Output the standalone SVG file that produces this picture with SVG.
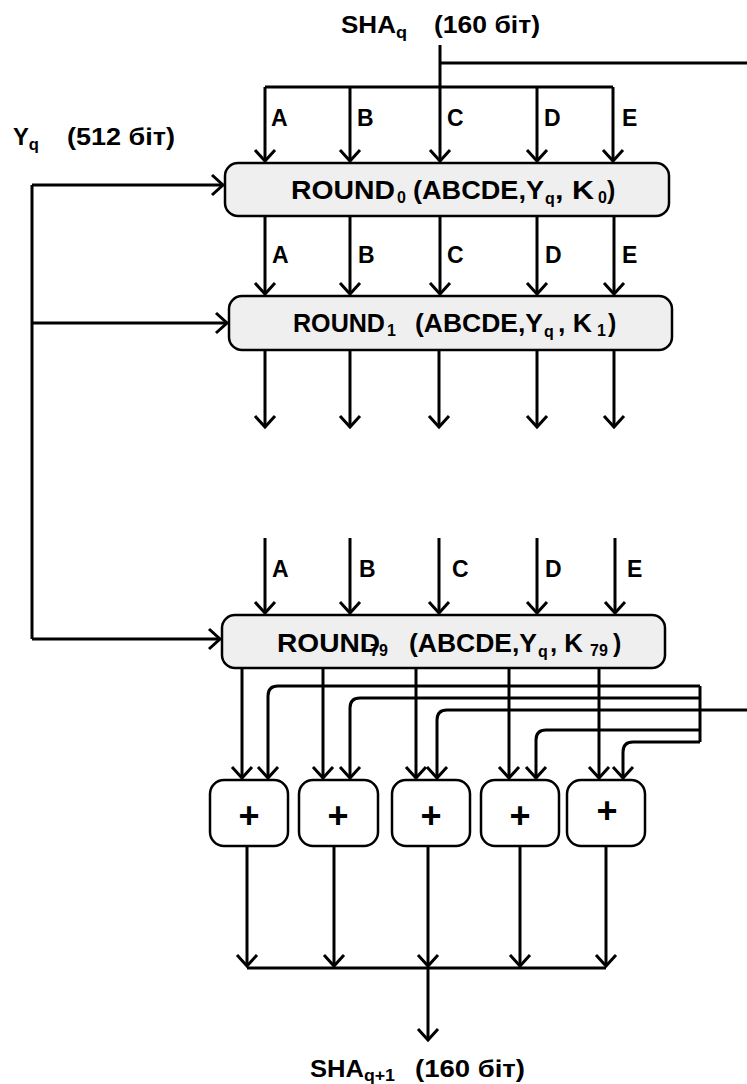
<svg xmlns="http://www.w3.org/2000/svg" width="747" height="1084" viewBox="0 0 747 1084">
<defs>
<style>
.ln{fill:none;stroke:#000;stroke-width:3}
.ar{fill:none;stroke:#000;stroke-width:3;marker-end:url(#ah)}
.box{fill:#efefef;stroke:#000;stroke-width:2.5}
.pb{fill:#fff;stroke:#000;stroke-width:2.5}
.t{font-family:"Liberation Sans",Arial,sans-serif;font-weight:bold;fill:#000;font-size:23px}
.r{font-family:"Liberation Sans",Arial,sans-serif;font-weight:bold;fill:#000;font-size:25px}
.s{font-size:16px}
.p{font-family:"Liberation Sans",Arial,sans-serif;font-weight:bold;fill:#000;font-size:36px;text-anchor:middle}
</style>
<marker id="ah" markerUnits="userSpaceOnUse" markerWidth="24" markerHeight="24" viewBox="-12 -12 24 24" refX="0" refY="0" orient="auto" overflow="visible">
<path d="M-11,-10 L0,0 L-11,10" fill="none" stroke="#000" stroke-width="3"/>
</marker>
</defs>
<rect width="747" height="1084" fill="#fff"/>

<g id="connectors">
<path class="ln" d="M440,63 H747"/>
<path class="ln" d="M265,87 H613"/>
<path class="ar" d="M440,45 V161"/>
<path class="ar" d="M265,87 V161"/>
<path class="ar" d="M350,87 V161"/>
<path class="ar" d="M537,87 V161"/>
<path class="ar" d="M613,87 V161"/>
<path class="ar" d="M265,216 V294"/>
<path class="ar" d="M350,216 V294"/>
<path class="ar" d="M440,216 V294"/>
<path class="ar" d="M537,216 V294"/>
<path class="ar" d="M614,216 V294"/>
<path class="ar" d="M265,350 V427"/>
<path class="ar" d="M350,350 V427"/>
<path class="ar" d="M439,350 V427"/>
<path class="ar" d="M537,350 V427"/>
<path class="ar" d="M614,350 V427"/>
<path class="ar" d="M265,538 V613"/>
<path class="ar" d="M350,538 V613"/>
<path class="ar" d="M439,538 V613"/>
<path class="ar" d="M537,538 V613"/>
<path class="ar" d="M615,538 V613"/>
<path class="ln" d="M32,185 V639"/>
<path class="ar" d="M32,185 H223"/>
<path class="ar" d="M32,323 H227"/>
<path class="ar" d="M32,639 H220"/>
<path class="ln" d="M747,710 H700"/>
<path class="ln" d="M700,686 V742"/>
<path class="ar" d="M700,686 H278 Q268,686 268,696 V778"/>
<path class="ar" d="M700,698 H360 Q350,698 350,708 V778"/>
<path class="ar" d="M700,710 H447 Q437,710 437,720 V778"/>
<path class="ar" d="M700,730 H546 Q536,730 536,740 V778"/>
<path class="ar" d="M700,742 H633 Q623,742 623,752 V778"/>
<path class="ar" d="M242,668 V778"/>
<path class="ar" d="M323,668 V778"/>
<path class="ar" d="M416,668 V778"/>
<path class="ar" d="M509,668 V778"/>
<path class="ar" d="M599,668 V778"/>
<path class="ar" d="M247,846 V966"/>
<path class="ar" d="M334,846 V966"/>
<path class="ar" d="M428,846 V966"/>
<path class="ar" d="M520,846 V966"/>
<path class="ar" d="M606,846 V966"/>
<path class="ln" d="M247,968 H606"/>
<path class="ar" d="M428,968 V1040"/>
</g>

<g id="labels">
<text class="t" x="341" y="33" textLength="66" lengthAdjust="spacingAndGlyphs">SHA<tspan class="s" dy="5">q</tspan></text>
<text class="t" x="434" y="33" textLength="106" lengthAdjust="spacingAndGlyphs">(160 біт)</text>
<text class="t" x="13" y="145" textLength="26" lengthAdjust="spacingAndGlyphs">Y<tspan class="s" dy="5">q</tspan></text>
<text class="t" x="67" y="145" textLength="108" lengthAdjust="spacingAndGlyphs">(512 біт)</text>
<text class="t" x="310" y="1077" textLength="85" lengthAdjust="spacingAndGlyphs">SHA<tspan class="s" dy="4">q+1</tspan></text>
<text class="t" x="415" y="1077" textLength="110" lengthAdjust="spacingAndGlyphs">(160 біт)</text>
<text class="t" x="271" y="126">A</text>
<text class="t" x="357" y="126">B</text>
<text class="t" x="447" y="126">C</text>
<text class="t" x="544" y="126">D</text>
<text class="t" x="622" y="126">E</text>
<text class="t" x="272" y="263">A</text>
<text class="t" x="358" y="263">B</text>
<text class="t" x="447" y="263">C</text>
<text class="t" x="545" y="263">D</text>
<text class="t" x="622" y="263">E</text>
<text class="t" x="272" y="577">A</text>
<text class="t" x="359" y="577">B</text>
<text class="t" x="452" y="577">C</text>
<text class="t" x="545" y="577">D</text>
<text class="t" x="627" y="577">E</text>
</g>

<g id="round0">
<rect class="box" x="225" y="163" width="444" height="53" rx="13"/>
<text class="r" y="199"><tspan x="291" textLength="104" lengthAdjust="spacingAndGlyphs">ROUND</tspan><tspan class="s" x="397" dy="4">0</tspan><tspan x="413" dy="-4" textLength="131" lengthAdjust="spacingAndGlyphs">(ABCDE,Y</tspan><tspan class="s" x="545" dy="5">q</tspan><tspan x="555" dy="-5" textLength="39" lengthAdjust="spacingAndGlyphs">, K</tspan><tspan class="s" x="598" dy="4">0</tspan><tspan x="607" dy="-4">)</tspan></text>
</g>

<g id="round1">
<rect class="box" x="229" y="296" width="443" height="54" rx="13"/>
<text class="r" y="332"><tspan x="293" textLength="92" lengthAdjust="spacingAndGlyphs">ROUND</tspan><tspan class="s" x="387" dy="4">1</tspan><tspan x="415" dy="-4" textLength="128" lengthAdjust="spacingAndGlyphs">(ABCDE,Y</tspan><tspan class="s" x="544" dy="5">q</tspan><tspan x="558" dy="-5" textLength="34" lengthAdjust="spacingAndGlyphs">, K</tspan><tspan class="s" x="597" dy="4">1</tspan><tspan x="608" dy="-4">)</tspan></text>
</g>

<g id="round79">
<rect class="box" x="222" y="615" width="443" height="53" rx="13"/>
<text class="r" y="652"><tspan x="277" textLength="103" lengthAdjust="spacingAndGlyphs">ROUND</tspan><tspan class="s" x="370" dy="4">79</tspan><tspan x="409" dy="-4" textLength="128" lengthAdjust="spacingAndGlyphs">(ABCDE,Y</tspan><tspan class="s" x="538" dy="5">q</tspan><tspan x="550" dy="-5" textLength="33" lengthAdjust="spacingAndGlyphs">, K</tspan><tspan class="s" x="590" dy="4">79</tspan><tspan x="613" dy="-4">)</tspan></text>
</g>

<g id="add1"><rect class="pb" x="210" y="780" width="78" height="66" rx="14"/><text class="p" x="249" y="828">+</text></g>
<g id="add2"><rect class="pb" x="299" y="780" width="79" height="66" rx="14"/><text class="p" x="338" y="828">+</text></g>
<g id="add3"><rect class="pb" x="392" y="780" width="78" height="66" rx="14"/><text class="p" x="431" y="828">+</text></g>
<g id="add4"><rect class="pb" x="481" y="780" width="78" height="66" rx="14"/><text class="p" x="520" y="828">+</text></g>
<g id="add5"><rect class="pb" x="567" y="780" width="78" height="66" rx="14"/><text class="p" x="607" y="823">+</text></g>
</svg>
